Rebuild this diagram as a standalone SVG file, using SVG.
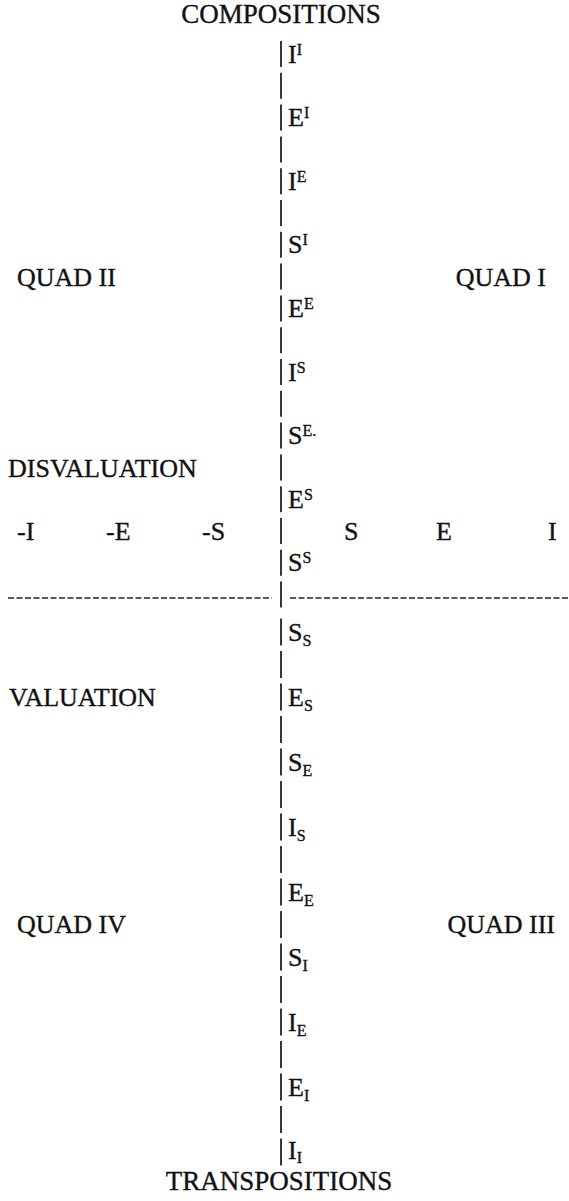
<svg xmlns="http://www.w3.org/2000/svg" width="569" height="1201" viewBox="0 0 569 1201">
<style>
text{font-family:"Liberation Serif","Times New Roman",serif;font-size:26px;fill:#111;stroke:#111;stroke-width:0.35}
.sup{font-size:16px}
.title{font-size:27px}
.mid{text-anchor:middle}
.end{text-anchor:end}
.axis{stroke:#222;stroke-width:1.8;fill:none}
.hdash{stroke:#222;stroke-width:1.6;stroke-dasharray:6 2.5;fill:none}
</style>
<rect width="569" height="1201" fill="#fff"/>
<g id="connectors">
<line class="axis" x1="281" y1="41" x2="281" y2="608" stroke-dasharray="26 5.8"/>
<line class="axis" x1="281" y1="618.5" x2="281" y2="1166" stroke-dasharray="27 5.5"/>
<line class="hdash" x1="8" y1="598" x2="272" y2="598"/>
<line class="hdash" x1="290" y1="598" x2="569" y2="598"/>
</g>
<g id="titles">
<text id="compositions" class="mid title" x="281" y="23">COMPOSITIONS</text>
<text id="transpositions" class="mid title" x="279" y="1190">TRANSPOSITIONS</text>
</g>
<g id="quadrants">
<text id="quad2" x="17" y="286">QUAD II</text>
<text id="quad1" class="end" x="546" y="286">QUAD I</text>
<text id="disvaluation" x="8" y="477">DISVALUATION</text>
<text id="valuation" x="9" y="706">VALUATION</text>
<text id="quad4" x="17" y="933">QUAD IV</text>
<text id="quad3" class="end" x="555" y="933">QUAD III</text>
</g>
<g id="scale">
<text x="17" y="540">-I</text>
<text x="106" y="540">-E</text>
<text x="202" y="540">-S</text>
<text x="344" y="540">S</text>
<text x="436" y="540">E</text>
<text x="548" y="540">I</text>
</g>
<g id="upper">
<text x="288" y="63">I<tspan class="sup" dy="-8">I</tspan></text>
<text x="288" y="126">E<tspan class="sup" dy="-8">I</tspan></text>
<text x="288" y="190">I<tspan class="sup" dy="-8">E</tspan></text>
<text x="288" y="253">S<tspan class="sup" dy="-8">I</tspan></text>
<text x="288" y="317">E<tspan class="sup" dy="-8">E</tspan></text>
<text x="288" y="381">I<tspan class="sup" dy="-8">S</tspan></text>
<text x="288" y="444">S<tspan class="sup" dy="-8">E.</tspan></text>
<text x="288" y="508">E<tspan class="sup" dy="-8">S</tspan></text>
<text x="288" y="571">S<tspan class="sup" dy="-8">S</tspan></text>
</g>
<g id="lower">
<text x="288" y="641">S<tspan class="sup" dy="5">S</tspan></text>
<text x="288" y="706">E<tspan class="sup" dy="5">S</tspan></text>
<text x="288" y="771">S<tspan class="sup" dy="5">E</tspan></text>
<text x="288" y="836">I<tspan class="sup" dy="5">S</tspan></text>
<text x="288" y="901">E<tspan class="sup" dy="5">E</tspan></text>
<text x="288" y="966">S<tspan class="sup" dy="5">I</tspan></text>
<text x="288" y="1031">I<tspan class="sup" dy="5">E</tspan></text>
<text x="288" y="1096">E<tspan class="sup" dy="5">I</tspan></text>
<text x="288" y="1159">I<tspan class="sup" dy="4">I</tspan></text>
</g>
</svg>
